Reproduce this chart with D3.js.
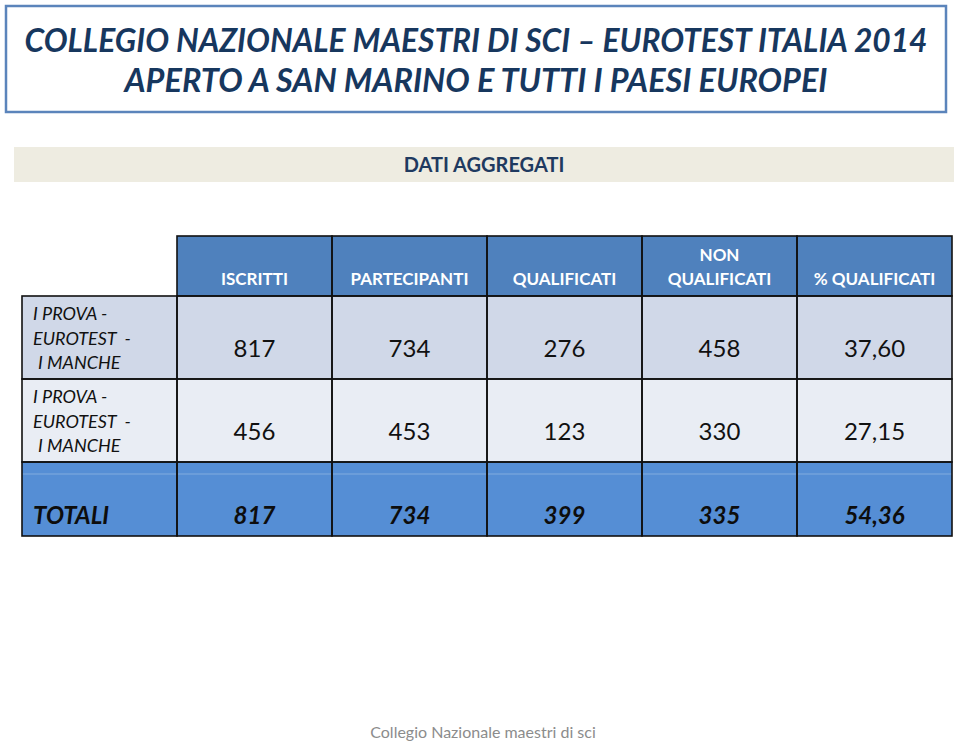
<!DOCTYPE html>
<html>
<head>
<meta charset="utf-8">
<script src="https://cdn.jsdelivr.net/npm/d3@7"></script>
<style>
  body { margin: 0; background: #fff; }
  svg { display: block; font-family: Lato, "Open Sans", sans-serif; }
</style>
</head>
<body>
<div id="chart"></div>
<script>
var titleLines = ["COLLEGIO NAZIONALE MAESTRI DI SCI \u2013 EUROTEST ITALIA 2014", "APERTO A SAN MARINO E TUTTI I PAESI EUROPEI"];
var subTitle = "DATI AGGREGATI";
var footer = "Collegio Nazionale maestri di sci";

var columns = ["ISCRITTI", "PARTECIPANTI", "QUALIFICATI", "NON QUALIFICATI", "% QUALIFICATI"];
var rowLabels = ["I PROVA - EUROTEST - I MANCHE", "I PROVA - EUROTEST - I MANCHE"];
var row1 = ["817", "734", "276", "458", "37,60"];
var row2 = ["456", "453", "123", "330", "27,15"];
var totalLabel = "TOTALI";
var totals = ["817", "734", "399", "335", "54,36"];

(function () {
  'use strict'

  var width = 959, height = 742;
  var svg = d3.select("#chart").append("svg")
    .attr("width", width)
    .attr("height", height);

  // title box
  svg.append("rect")
    .attr("x", 6).attr("y", 6).attr("width", 940).attr("height", 106)
    .attr("fill", "#fff").attr("stroke", "#5B84BB").attr("stroke-width", 2.5);

  var titleWidth = [903, 703];
  svg.selectAll(".title")
    .data(titleLines)
    .enter().append("text")
    .attr("class", "title")
    .attr("x", 476)
    .attr("y", function(d, i) { return 52 + i * 40; })
    .attr("text-anchor", "middle")
    .attr("textLength", function(d, i) { return titleWidth[i]; })
    .attr("lengthAdjust", "spacingAndGlyphs")
    .attr("fill", "#17375E")
    .style("font-size", "32px")
    .style("font-weight", "bold")
    .style("font-style", "italic")
    .text(function(d) { return d; });

  // DATI AGGREGATI band
  svg.append("rect")
    .attr("x", 14).attr("y", 147).attr("width", 940).attr("height", 35)
    .attr("fill", "#EEECE1");
  svg.append("text")
    .attr("x", 484).attr("y", 172)
    .attr("text-anchor", "middle")
    .attr("fill", "#1F3A60")
    .style("font-size", "20px")
    .style("font-weight", "bold")
    .text(subTitle);

  // table scales
  var x = d3.scaleBand()
    .domain(["label"].concat(columns))
    .range([22, 952]);

  var rowKeys = ["head", "r1", "r2", "tot"];
  var yTop = d3.scaleOrdinal().domain(rowKeys).range([236, 296, 379, 462]);
  var yBottom = d3.scaleOrdinal().domain(rowKeys).range([296, 379, 462, 536]);
  var rowFill = d3.scaleOrdinal().domain(rowKeys).range(["#4F81BD", "#D0D8E8", "#E9EDF4", "#558ED5"]);

  var cells = [];
  columns.forEach(function(c, i) {
    cells.push({ row: "head", col: c, text: c });
    cells.push({ row: "r1", col: c, text: row1[i] });
    cells.push({ row: "r2", col: c, text: row2[i] });
    cells.push({ row: "tot", col: c, text: totals[i] });
  });
  cells.push({ row: "r1", col: "label", text: rowLabels[0] });
  cells.push({ row: "r2", col: "label", text: rowLabels[1] });
  cells.push({ row: "tot", col: "label", text: totalLabel });

  svg.append("g").selectAll("rect")
    .data(cells)
    .enter().append("rect")
    .attr("x", function(d) { return x(d.col); })
    .attr("y", function(d) { return yTop(d.row); })
    .attr("width", x.bandwidth())
    .attr("height", function(d) { return yBottom(d.row) - yTop(d.row); })
    .attr("fill", function(d) { return rowFill(d.row); });

  // faint highlight line in totals row
  svg.append("line")
    .attr("x1", x("label")).attr("x2", x.range()[1])
    .attr("y1", yTop("tot") + 12).attr("y2", yTop("tot") + 12)
    .attr("stroke", "#fff").attr("stroke-opacity", 0.18).attr("stroke-width", 1.5);

  svg.append("g").selectAll("rect")
    .data(cells)
    .enter().append("rect")
    .attr("x", function(d) { return x(d.col); })
    .attr("y", function(d) { return yTop(d.row); })
    .attr("width", x.bandwidth())
    .attr("height", function(d) { return yBottom(d.row) - yTop(d.row); })
    .attr("fill", "none")
    .attr("stroke", "#111").attr("stroke-width", 1.6);

  // header text
  var head = svg.append("g").selectAll("text")
    .data(cells.filter(function(d) { return d.row == "head"; }))
    .enter().append("text")
    .attr("text-anchor", "middle")
    .attr("fill", "#fff")
    .style("font-size", "17px")
    .style("font-weight", "bold");
  head.each(function(d) {
    var t = d3.select(this);
    var parts = d.text == "NON QUALIFICATI" ? ["NON", "QUALIFICATI"] : [d.text];
    parts.forEach(function(p, i) {
      t.append("tspan")
        .attr("x", x(d.col) + x.bandwidth() / 2)
        .attr("y", 285 - (parts.length - 1 - i) * 24)
        .text(p);
    });
  });

  // numbers
  svg.append("g").selectAll("text")
    .data(cells.filter(function(d) { return d.row != "head" && d.col != "label"; }))
    .enter().append("text")
    .attr("x", function(d) { return x(d.col) + x.bandwidth() / 2; })
    .attr("y", function(d) { return d.row == "tot" ? 524 : yBottom(d.row) - 22; })
    .attr("text-anchor", "middle")
    .attr("fill", function(d) { return d.row == "tot" ? "#0d0d0d" : "#111"; })
    .style("font-size", "24px")
    .style("font-weight", function(d) { return d.row == "tot" ? "bold" : "normal"; })
    .style("font-style", function(d) { return d.row == "tot" ? "italic" : "normal"; })
    .text(function(d) { return d.text; });

  // row labels
  var labelLines = ["I PROVA -", "EUROTEST  -", "I MANCHE"];
  svg.append("g").selectAll("text")
    .data(cells.filter(function(d) { return d.col == "label" && d.row != "tot"; }))
    .enter().append("text")
    .attr("fill", "#111")
    .style("font-size", "18px")
    .style("font-style", "italic")
    .style("white-space", "pre")
    .each(function(d) {
      var t = d3.select(this);
      labelLines.forEach(function(p, i) {
        t.append("tspan")
          .attr("x", x("label") + 11 + (i == 2 ? 5 : 0))
          .attr("y", yTop(d.row) + 24 + i * 24.5)
          .text(p);
      });
    });

  svg.append("text")
    .attr("x", x("label") + 11)
    .attr("y", 524)
    .attr("fill", "#0d0d0d")
    .style("font-size", "24px")
    .style("font-weight", "bold")
    .style("font-style", "italic")
    .text(totalLabel);

  // footer
  svg.append("text")
    .attr("x", 483).attr("y", 738)
    .attr("text-anchor", "middle")
    .attr("fill", "#8C8C8C")
    .style("font-size", "16px")
    .text(footer);
})()
</script>
</body>
</html>
